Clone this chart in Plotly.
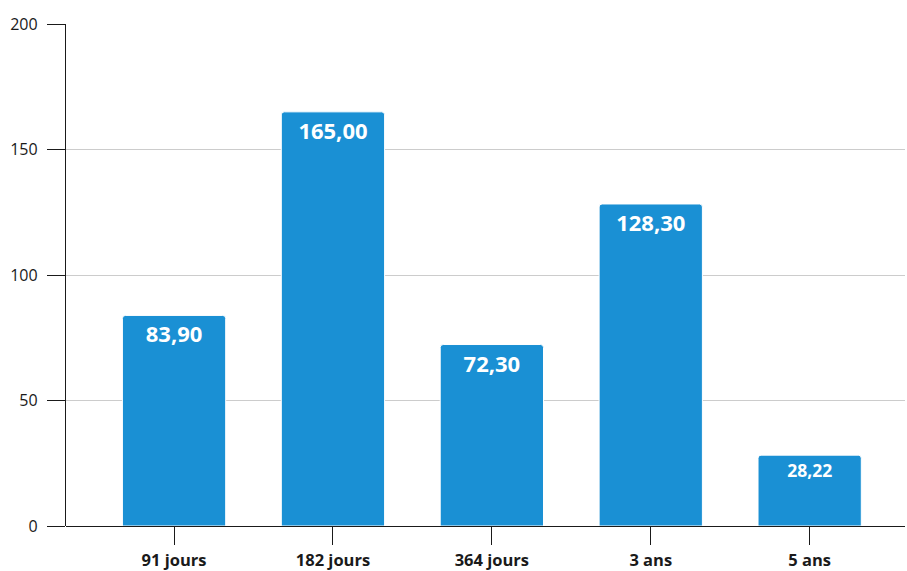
import plotly.graph_objects as go

# Encours par maturité
categories = ["91 jours", "182 jours", "364 jours", "3 ans", "5 ans"]
values = [83.90, 165.00, 72.30, 128.30, 28.22]
value_labels = ["83,90", "165,00", "72,30", "128,30", "28,22"]
label_sizes = [22, 22, 22, 22, 17.5]
y_ticks = [0, 50, 100, 150, 200]

BAR_BLUE = "#1a90d4"
INK = "#1a1a1a"

fig = go.Figure(
    go.Bar(
        x=categories,
        y=values,
        text=value_labels,
        textposition="inside",
        insidetextanchor="end",
        textangle=0,
        textfont=dict(color="white", size=label_sizes, family="Open Sans", weight="bold"),
        marker=dict(color=BAR_BLUE, line=dict(color="white", width=1), cornerradius=3),
        width=0.65,
        hoverinfo="skip",
    )
)

fig.update_layout(
    width=907,
    height=571,
    margin=dict(l=66, r=2, t=24, b=45, autoexpand=False),
    paper_bgcolor="white",
    plot_bgcolor="white",
    showlegend=False,
    font=dict(family="Open Sans", color=INK),
    uniformtext=dict(mode=False),
)

fig.update_xaxes(
    type="category",
    range=[-0.68, 4.6],
    automargin=False,
    showline=False,
    showgrid=False,
    ticks="outside",
    ticklen=18,
    tickwidth=1.3,
    tickcolor=INK,
    ticklabelstandoff=1,
    tickfont=dict(size=16.5, family="Open Sans", weight="bold", color=INK),
)

fig.update_yaxes(
    range=[0, 200],
    tickvals=y_ticks,
    automargin=False,
    showline=True,
    linecolor=INK,
    linewidth=1.3,
    showgrid=True,
    gridcolor="#cccccc",
    gridwidth=1,
    zeroline=True,
    zerolinecolor=INK,
    zerolinewidth=1.3,
    ticks="outside",
    ticklen=18,
    tickwidth=1.3,
    tickcolor=INK,
    ticklabelstandoff=6,
    tickfont=dict(size=16, family="Open Sans", color=INK),
)

fig.write_html("out.html")
